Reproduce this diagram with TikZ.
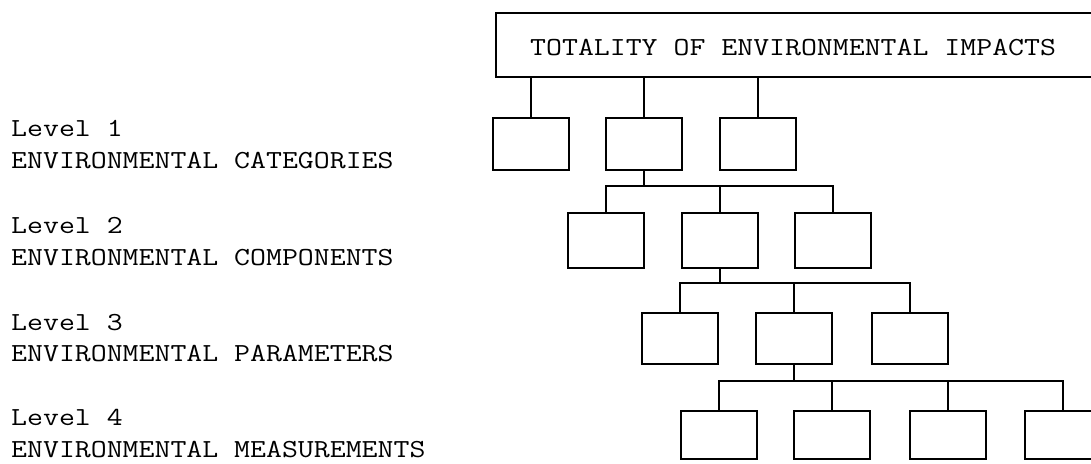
\documentclass[tikz,border=0pt]{standalone}
\usepackage{fontspec}
\setmonofont{Latin Modern Mono}[FakeStretch=1.19]
\begin{document}
\begin{tikzpicture}[x=1pt,y=-1pt,
  box/.style={draw, line width=2pt, minimum width=76pt, minimum height=#1, inner sep=0pt},
  box/.default=52pt,
  link/.style={line width=2pt},
  caption/.style={font=\ttfamily\fontsize{26}{30}\selectfont, anchor=base west, inner sep=0pt}]
\useasboundingbox (0,0) rectangle (1091,463);
\fill[white] (0,0) rectangle (1091,463);
\clip (0,0) rectangle (1091,463);

% level captions on the left
\node[caption] (l1a) at (11,136) {Level 1};
\node[caption] (l1b) at (11,168) {ENVIRONMENTAL CATEGORIES};
\node[caption] (l2a) at (11,233) {Level 2};
\node[caption] (l2b) at (11,265) {ENVIRONMENTAL COMPONENTS};
\node[caption] (l3a) at (11,330) {Level 3};
\node[caption] (l3b) at (11,361) {ENVIRONMENTAL PARAMETERS};
\node[caption] (l4a) at (11,425) {Level 4};
\node[caption] (l4b) at (11,457) {ENVIRONMENTAL MEASUREMENTS};

% root box, running off the right edge
\node[box, minimum width=614pt, minimum height=64pt] (top) at (803,45) {};
\node[caption] (title) at (530,55) {TOTALITY OF ENVIRONMENTAL IMPACTS};

% level 1
\node[box=52pt] (a1) at (531,144) {};
\node[box=52pt] (a2) at (644,144) {};
\node[box=52pt] (a3) at (758,144) {};
\foreach \n in {a1,a2,a3} \draw[link] (\n.north |- top.south) -- (\n.north);

% level 2
\node[box=55pt] (b1) at (606,240.5) {};
\node[box=55pt] (b2) at (720,240.5) {};
\node[box=55pt] (b3) at (833,240.5) {};
\coordinate (j1) at (644,186);
\draw[link] (a2.south) -- (j1);
\draw[link] (b1.north) |- (j1) -| (b3.north);
\draw[link] (b2.north) -- (b2.north |- j1);

% level 3
\node[box=51pt] (c1) at (680,338.5) {};
\node[box=51pt] (c2) at (794,338.5) {};
\node[box=51pt] (c3) at (910,338.5) {};
\coordinate (j2) at (720,283);
\draw[link] (b2.south) -- (j2);
\draw[link] (c1.north) |- (j2) -| (c3.north);
\draw[link] (c2.north) -- (c2.north |- j2);

% level 4
\node[box=48pt] (d1) at (719,435) {};
\node[box=48pt] (d2) at (832,435) {};
\node[box=48pt] (d3) at (948,435) {};
\node[box=48pt] (d4) at (1063,435) {};
\coordinate (j3) at (794,381);
\draw[link] (c2.south) -- (j3);
\draw[link] (d1.north) |- (j3) -| (d4.north);
\draw[link] (d2.north) -- (d2.north |- j3);
\draw[link] (d3.north) -- (d3.north |- j3);
\end{tikzpicture}
\end{document}
